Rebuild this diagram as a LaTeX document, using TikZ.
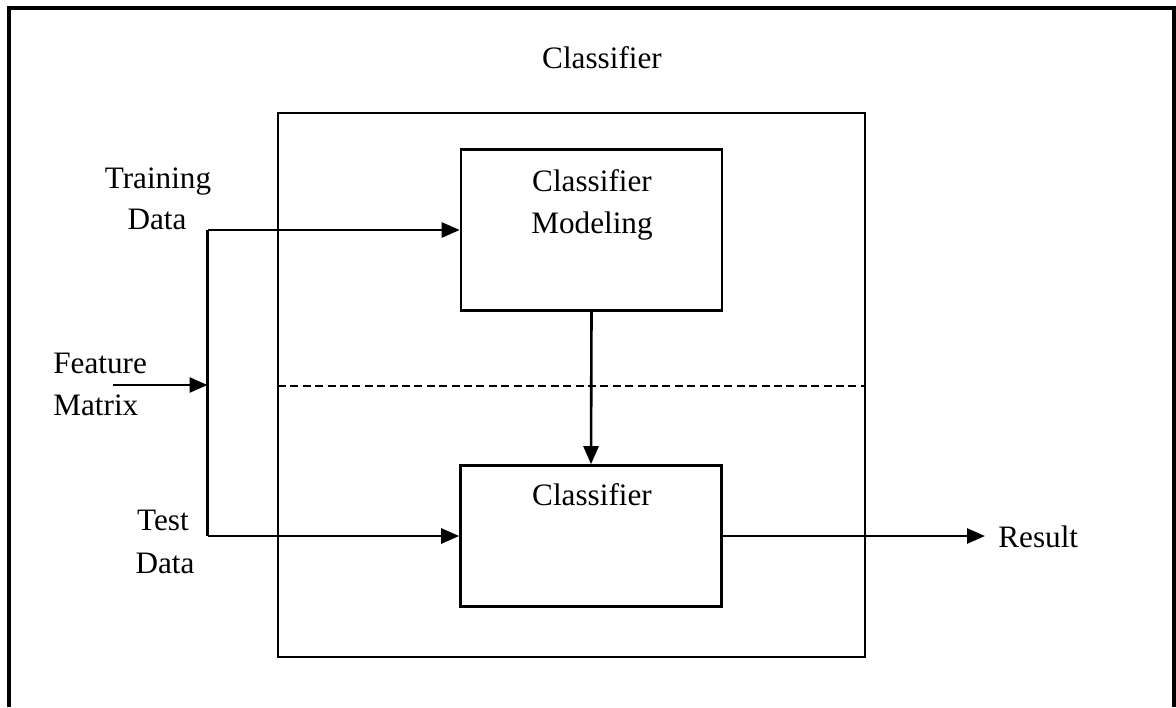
\documentclass[tikz,border=0pt]{standalone}
\usepackage{fontspec}
\setmainfont{Liberation Serif}
\usetikzlibrary{arrows.meta}
\begin{document}
\begin{tikzpicture}[x=0.5pt,y=-0.5pt,
  frame/.style={draw=black,line width=1.6pt},
  block/.style={draw=black,line width=1.3pt,inner sep=0pt,
    minimum width=130.5pt,minimum height=80.5pt},
  txt/.style={font=\fontsize{15.6}{18}\selectfont,inner sep=0pt,anchor=base},
  flow/.style={draw=black,line width=1.3pt,
    -{Triangle[length=9pt,width=7.5pt]}},
  wire/.style={draw=black,line width=1.3pt}]
  \useasboundingbox (0,0) rectangle (1176,707);

  % outer frame, open at the bottom
  \draw[frame] (9,707) -- (9,8) -- (1174,8) -- (1174,707);
  \node[txt] (title) at (602,68) {Classifier};

  % classifier enclosure and phase separator
  \draw[wire] (278,113) rectangle (865,657);
  \coordinate (sepL) at (278,386);
  \coordinate (sepR) at (865,386);
  \draw[wire,dash pattern=on 4pt off 2.2pt] (sepL) -- (sepR);

  % processing blocks
  \node[block] (model) at (591.5,230) {};
  \node[txt] (modelA) at (592,191) {Classifier};
  \node[txt] (modelB) at (592,233) {Modeling};
  \node[block,minimum height=70.5pt] (clf) at (591,536) {};
  \node[txt] (clfA) at (592,505) {Classifier};

  % inputs
  \node[txt] (trainA) at (158,188) {Training};
  \node[txt] (trainB) at (157,229) {Data};
  \node[txt,anchor=base west] (featA) at (53,373) {Feature};
  \node[txt,anchor=base west] (featB) at (53,415) {Matrix};
  \node[txt] (testA) at (163,530) {Test};
  \node[txt] (testB) at (165,573) {Data};
  \node[txt,anchor=base west] (res) at (998,547) {Result};

  \coordinate (fin) at (113,385);
  \coordinate (split) at (207.5,385);
  \coordinate (splitT) at (207.5,230);
  \coordinate (splitB) at (207.5,536);
  \coordinate (out) at (985,536);

  % connectors
  \draw[flow] (fin) -- (split);
  \draw[wire] (splitT) -- (splitB);
  \draw[flow] (splitT) -- (model.west);
  \draw[flow] (splitB) -- (clf.west);
  \draw[flow] (model.south) -- (clf.north);
  \draw[flow] (clf.east) -- (out);
\end{tikzpicture}
\end{document}
